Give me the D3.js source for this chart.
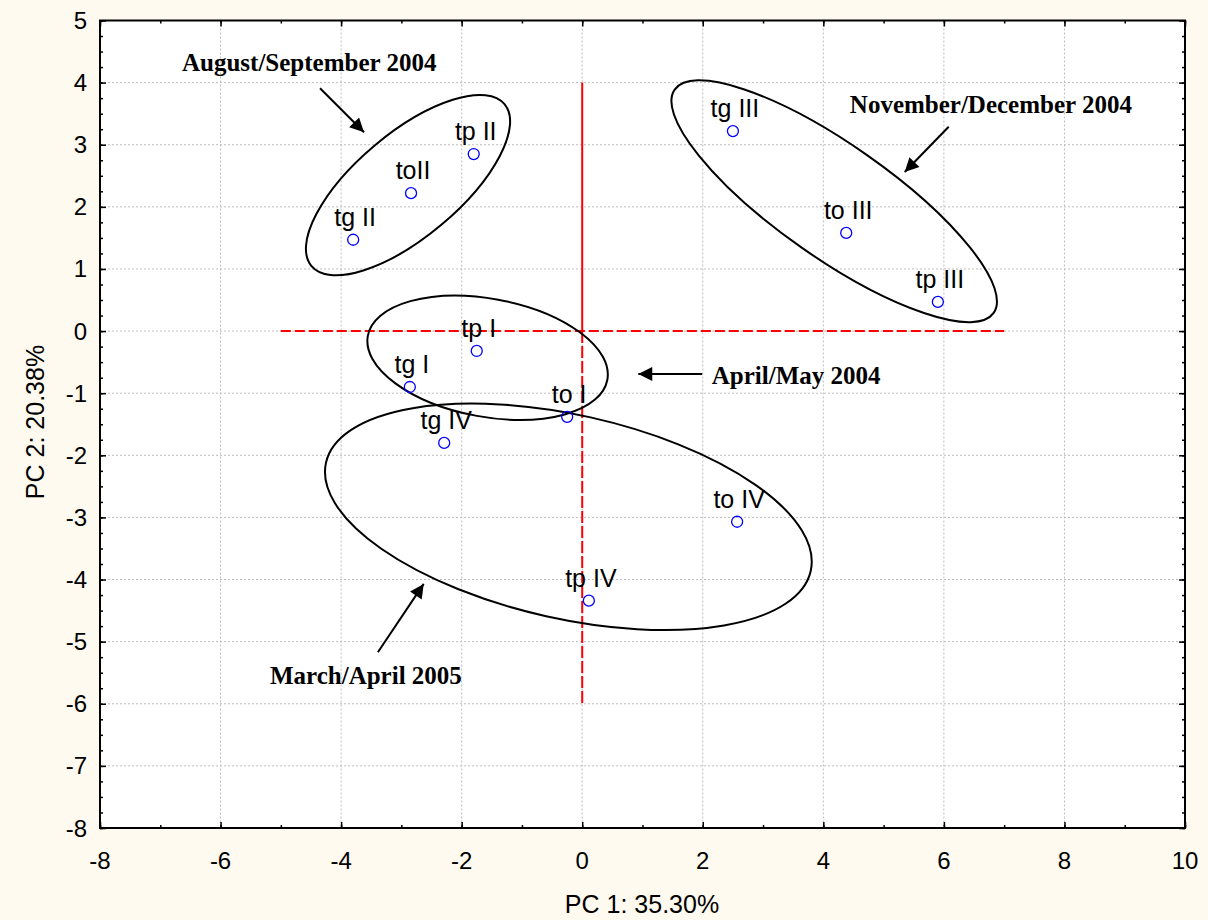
<!DOCTYPE html>
<html>
<head>
<meta charset="utf-8">
<script src="https://cdn.jsdelivr.net/npm/d3@7"></script>
<style>
  body { margin: 0; background: #fefaef; }
  svg { display: block; }
</style>
</head>
<body>
<script>
// sample scores on the first two components
var sampleLabels = ["tg II", "toII", "tp II", "tg III", "to III", "tp III", "tp I", "tg I", "to I", "tg IV", "to IV", "tp IV"];
var pc1 = [-3.80, -2.84, -1.80, 2.50, 4.38, 5.90, -1.75, -2.86, -0.25, -2.29, 2.57, 0.11];
var pc2 = [1.47, 2.22, 2.85, 3.22, 1.58, 0.47, -0.32, -0.90, -1.38, -1.80, -3.07, -4.34];

// grouping ellipses (centre in data units, semi axes in PC1 units, angle in degrees)
var groupNames = ["August/September 2004", "November/December 2004", "April/May 2004", "March/April 2005"];
var ellCx = [-2.89, 4.18, -1.57, -0.23];
var ellCy = [2.35, 2.09, -0.43, -2.99];
var ellA = [2.09, 3.23, 2.02, 4.12];
var ellB = [0.86, 0.94, 0.98, 1.69];
var ellAngle = [-40, 35, 10.4, 12.6];

// annotation text + arrow (data units)
var noteX = [-6.64, 4.44, 2.15, -5.18];
var noteY = [4.19, 3.51, -0.85, -5.68];
var arrowFrom = [[-4.35, 3.91], [6.08, 3.29], [1.99, -0.69], [-3.39, -5.17]];
var arrowTo = [[-3.62, 3.20], [5.35, 2.56], [0.93, -0.69], [-2.63, -4.07]];

var xTicks = [-8, -6, -4, -2, 0, 2, 4, 6, 8, 10];
var yTicks = [5, 4, 3, 2, 1, 0, -1, -2, -3, -4, -5, -6, -7, -8];

var W = 1208, H = 920;
var margin = { top: 20.5, right: 23, bottom: 92, left: 100 };

var svg = d3.select("body").append("svg")
    .attr("width", W)
    .attr("height", H);

var x = d3.scaleLinear().domain([-8, 10]).range([margin.left, W - margin.right]);
var y = d3.scaleLinear().domain([-8, 5]).range([H - margin.bottom, margin.top]);

svg.append("defs").append("marker")
    .attr("id", "head")
    .attr("viewBox", "0 0 10 10")
    .attr("refX", 10).attr("refY", 5)
    .attr("markerWidth", 16).attr("markerHeight", 14)
    .attr("markerUnits", "userSpaceOnUse")
    .attr("orient", "auto")
  .append("path")
    .attr("d", "M0,0L10,5L0,10Z")
    .attr("fill", "#000");

// plot background
svg.append("rect")
    .attr("x", x(-8)).attr("y", y(5))
    .attr("width", x(10) - x(-8))
    .attr("height", y(-8) - y(5))
    .attr("fill", "#fff");

// grid
svg.append("g").selectAll("line")
  .data(xTicks.slice(1, -1))
  .enter().append("line")
    .attr("x1", d => x(d)).attr("x2", d => x(d))
    .attr("y1", y(5)).attr("y2", y(-8))
    .attr("stroke", "#bdbdbd").attr("stroke-width", 1)
    .attr("stroke-dasharray", "2,2");
svg.append("g").selectAll("line")
  .data(yTicks.slice(1, -1))
  .enter().append("line")
    .attr("y1", d => y(d)).attr("y2", d => y(d))
    .attr("x1", x(-8)).attr("x2", x(10))
    .attr("stroke", "#bdbdbd").attr("stroke-width", 1)
    .attr("stroke-dasharray", "2,2");

// axes, ticks pointing inward on all four sides
var minorX = d3.range(-8, 10.01, 1);
var minorY = d3.range(-8, 5.01, 0.25);
var frame = svg.append("g");
function tickSide(axis, ticks, size) {
  return axis.tickValues(ticks).tickSize(size).tickSizeOuter(0).tickFormat("");
}
frame.append("g").attr("transform", "translate(0," + y(-8) + ")")
  .call(tickSide(d3.axisTop(x), minorX, 3));
frame.append("g").attr("transform", "translate(0," + y(-8) + ")")
  .call(tickSide(d3.axisTop(x), xTicks, 6));
frame.append("g").attr("transform", "translate(0," + y(5) + ")")
  .call(tickSide(d3.axisBottom(x), minorX, 3));
frame.append("g").attr("transform", "translate(0," + y(5) + ")")
  .call(tickSide(d3.axisBottom(x), xTicks, 6));
frame.append("g").attr("transform", "translate(" + x(-8) + ",0)")
  .call(tickSide(d3.axisRight(y), minorY, 3));
frame.append("g").attr("transform", "translate(" + x(-8) + ",0)")
  .call(tickSide(d3.axisRight(y), yTicks, 6));
frame.append("g").attr("transform", "translate(" + x(10) + ",0)")
  .call(tickSide(d3.axisLeft(y), minorY, 3));
frame.append("g").attr("transform", "translate(" + x(10) + ",0)")
  .call(tickSide(d3.axisLeft(y), yTicks, 6));
frame.selectAll(".domain").remove();
frame.selectAll(".tick line").attr("stroke", "#000").attr("stroke-width", 1.5);

svg.append("rect")
    .attr("x", x(-8)).attr("y", y(5))
    .attr("width", x(10) - x(-8))
    .attr("height", y(-8) - y(5))
    .attr("fill", "none")
    .attr("stroke", "#000").attr("stroke-width", 2);

// tick labels
svg.append("g").selectAll("text")
  .data(xTicks)
  .enter().append("text")
    .attr("x", d => x(d))
    .attr("y", y(-8) + 41)
    .attr("text-anchor", "middle")
    .style("font", "24px 'Liberation Sans', Arial, sans-serif")
    .text(d => d);
svg.append("g").selectAll("text")
  .data(yTicks)
  .enter().append("text")
    .attr("x", x(-8) - 13)
    .attr("y", d => y(d) + 8.5)
    .attr("text-anchor", "end")
    .style("font", "24px 'Liberation Sans', Arial, sans-serif")
    .text(d => d);

svg.append("text")
    .attr("x", 642).attr("y", 913)
    .attr("text-anchor", "middle")
    .style("font", "25px 'Liberation Sans', Arial, sans-serif")
    .text("PC 1: 35.30%");
svg.append("text")
    .attr("transform", "translate(44,422) rotate(-90)")
    .attr("text-anchor", "middle")
    .style("font", "25px 'Liberation Sans', Arial, sans-serif")
    .text("PC 2: 20.38%");

// red reference lines
var red = svg.append("g").attr("stroke", "#ff0000").attr("stroke-width", 2).attr("fill", "none");
red.append("line")
    .attr("x1", x(0)).attr("x2", x(0)).attr("y1", y(4)).attr("y2", y(0));
red.append("line")
    .attr("x1", x(0)).attr("x2", x(0)).attr("y1", y(0)).attr("y2", y(-6))
    .attr("stroke-dasharray", "12,3");
red.append("line")
    .attr("x1", x(-5)).attr("x2", x(7)).attr("y1", y(0)).attr("y2", y(0))
    .attr("stroke-dasharray", "10,4");

// ellipses
var kx = x(1) - x(0);
svg.append("g").selectAll("ellipse")
  .data(groupNames)
  .enter().append("ellipse")
    .attr("transform", (d, i) => "translate(" + x(ellCx[i]) + "," + y(ellCy[i]) + ") rotate(" + ellAngle[i] + ")")
    .attr("rx", (d, i) => ellA[i] * kx)
    .attr("ry", (d, i) => ellB[i] * kx)
    .attr("fill", "none")
    .attr("stroke", "#000").attr("stroke-width", 2);

// points + labels
var pts = svg.append("g");
pts.selectAll("circle")
  .data(sampleLabels)
  .enter().append("circle")
    .attr("cx", (d, i) => x(pc1[i]))
    .attr("cy", (d, i) => y(pc2[i]))
    .attr("r", 5.5)
    .attr("fill", "none")
    .attr("stroke", "#0000ff").attr("stroke-width", 1.3);
pts.selectAll("text")
  .data(sampleLabels)
  .enter().append("text")
    .attr("x", (d, i) => x(pc1[i]) + 2)
    .attr("y", (d, i) => y(pc2[i]) - 14)
    .attr("text-anchor", "middle")
    .style("font", "25px 'Liberation Sans', Arial, sans-serif")
    .text(d => d);

// annotations
var notes = svg.append("g");
notes.selectAll("line")
  .data(groupNames)
  .enter().append("line")
    .attr("x1", (d, i) => x(arrowFrom[i][0]))
    .attr("y1", (d, i) => y(arrowFrom[i][1]))
    .attr("x2", (d, i) => x(arrowTo[i][0]))
    .attr("y2", (d, i) => y(arrowTo[i][1]))
    .attr("stroke", "#000").attr("stroke-width", 2)
    .attr("marker-end", "url(#head)");
notes.selectAll("text")
  .data(groupNames)
  .enter().append("text")
    .attr("x", (d, i) => x(noteX[i]))
    .attr("y", (d, i) => y(noteY[i]))
    .style("font", "bold 25px 'Liberation Serif', 'Times New Roman', serif")
    .text(d => d);
</script>
</body>
</html>
